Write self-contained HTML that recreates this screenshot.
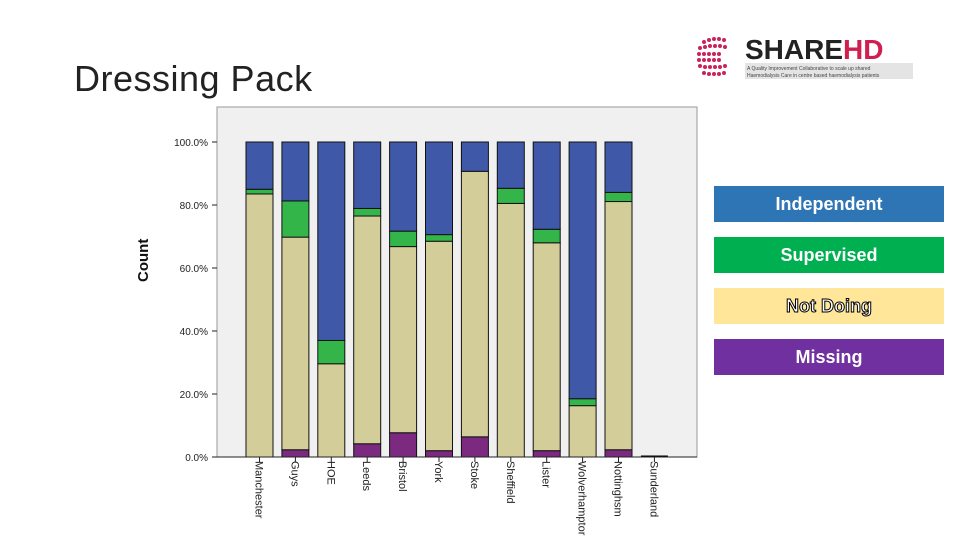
<!DOCTYPE html>
<html><head><meta charset="utf-8"><style>
body{margin:0;width:960px;height:540px;background:#fff;overflow:hidden;font-family:"Liberation Sans",sans-serif;position:relative}
.title{position:absolute;left:74px;top:58px;font-size:36px;color:#222;letter-spacing:0.5px}
.leg{position:absolute;left:714px;width:230px;height:36px;line-height:36px;text-align:center;color:#fff;font-weight:bold;font-size:18px}
</style></head><body>
<div class="title">Dressing Pack</div>
<div style="position:absolute;left:692px;top:32px;width:224px;height:50px">
<svg width="224" height="50"><g fill="#c8245a">
<circle cx="12" cy="10" r="2"/><circle cx="17" cy="8" r="2"/><circle cx="22" cy="7" r="2"/><circle cx="27" cy="7" r="2"/><circle cx="32" cy="8" r="2"/>
<circle cx="8" cy="16" r="2"/><circle cx="13" cy="15" r="2"/><circle cx="18" cy="14" r="2"/><circle cx="23" cy="14" r="2"/><circle cx="28" cy="14" r="2"/><circle cx="33" cy="15" r="2"/>
<circle cx="7" cy="22" r="2"/><circle cx="12" cy="22" r="2"/><circle cx="17" cy="22" r="2"/><circle cx="22" cy="22" r="2"/><circle cx="27" cy="22" r="2"/>
<circle cx="7" cy="28" r="2"/><circle cx="12" cy="28" r="2"/><circle cx="17" cy="28" r="2"/><circle cx="22" cy="28" r="2"/><circle cx="27" cy="28" r="2"/>
<circle cx="8" cy="34" r="2"/><circle cx="13" cy="35" r="2"/><circle cx="18" cy="35" r="2"/><circle cx="23" cy="35" r="2"/><circle cx="28" cy="35" r="2"/><circle cx="33" cy="34" r="2"/>
<circle cx="12" cy="41" r="2"/><circle cx="17" cy="42" r="2"/><circle cx="22" cy="42" r="2"/><circle cx="27" cy="42" r="2"/><circle cx="32" cy="41" r="2"/>
</g>
<text x="53" y="27" font-family="Liberation Sans" font-weight="bold" font-size="28" fill="#222">SHARE<tspan fill="#d01f4f">HD</tspan></text>
<rect x="53" y="31" width="168" height="16" fill="#e4e4e4"/>
<text x="55" y="38" font-size="5" fill="#444" font-family="Liberation Sans">A Quality Improvement Collaborative to scale up shared</text>
<text x="55" y="45" font-size="5" fill="#444" font-family="Liberation Sans">Haemodialysis Care in centre based haemodialysis patients</text>
</svg></div>
<svg id="chart" width="960" height="540" style="position:absolute;left:0;top:0">
<rect x="217" y="107" width="480" height="350" fill="#f0f0f0" stroke="#999"/>
<text transform="translate(148,282) rotate(-90)" font-weight="bold" font-size="15" fill="#111">Count</text>
<g id="ticks"></g><g id="bars"></g><g id="cats"></g>
<line x1="217" y1="457" x2="697" y2="457" stroke="#222"/>
</svg>
<div class="leg" style="top:186px;background:#2e75b6">Independent</div>
<div class="leg" style="top:237px;background:#00b050">Supervised</div>
<div class="leg" style="top:288px;background:#ffe699;color:#fff;-webkit-text-stroke:1px #000">Not Doing</div>
<div class="leg" style="top:339px;background:#7030a0">Missing</div>
<script>
const categories=["Manchester","Guys","HOE","Leeds","Bristol","York","Stoke","Sheffield","Lister","Wolverhamptor","Nottinghsm","Sunderland"];
const missing=[0,2.3,0,4.2,7.7,2.0,6.4,0,2.0,0,2.3,0];
const notDoing=[83.5,67.5,29.6,72.3,59.1,66.5,84.3,80.5,66.0,16.3,78.8,0];
const supervised=[1.5,11.5,7.4,2.4,4.9,2.1,0,4.8,4.3,2.2,2.9,0];
const independent=[15.0,18.7,63.0,21.1,28.3,29.4,9.3,14.7,27.7,81.5,16.0,0];
const yTicks=[0,20,40,60,80,100];
const NS="http://www.w3.org/2000/svg";
const y=v=>457-v*3.15;
const x=i=>246+i*35.9;
const bw=27;
function mk(t,a){const e=document.createElementNS(NS,t);for(const k in a)e.setAttribute(k,a[k]);return e;}
const tg=document.getElementById('ticks');
yTicks.forEach(v=>{
 const t=mk('text',{x:208,y:y(v)+4,'text-anchor':'end','font-size':10,fill:'#222'});
 t.textContent=v.toFixed(1)+'%';
 
 
 tg.appendChild(t);
 const l=mk('line',{x1:212,x2:217,y1:y(v),y2:y(v),stroke:'#222'});
 
 
 tg.appendChild(l);
});
const series=[[missing,'#7b2a80','missing'],[notDoing,'#d3ce99','not-doing'],[supervised,'#33b54a','supervised'],[independent,'#3f59a8','independent']];
const bg=document.getElementById('bars'),cg=document.getElementById('cats');
categories.forEach((c,i)=>{
 let base=0;
 series.forEach(([arr,col,nm])=>{
  const v=arr[i];
  if(v>0){
   const r=mk('rect',{x:x(i),y:y(base+v),width:bw,height:v*3.15,fill:col,stroke:'#111','stroke-width':1});
   
   
   bg.appendChild(r);
  }
  base+=v;
 });
 if(base===0){
  const z=mk('line',{x1:x(i),x2:x(i)+bw,y1:456.5,y2:456.5,stroke:'#000','stroke-width':2});
  
  
  bg.appendChild(z);
 }
 const t=mk('text',{transform:`translate(${x(i)+bw/2-4},461) rotate(90)`,'font-size':11,fill:'#222'});
 t.textContent=c;
 
 
 cg.appendChild(t);
 const tk=mk('line',{x1:x(i)+bw/2,x2:x(i)+bw/2,y1:457,y2:462,stroke:'#222'});
 
 
 cg.appendChild(tk);
});
</script>
</body></html>
